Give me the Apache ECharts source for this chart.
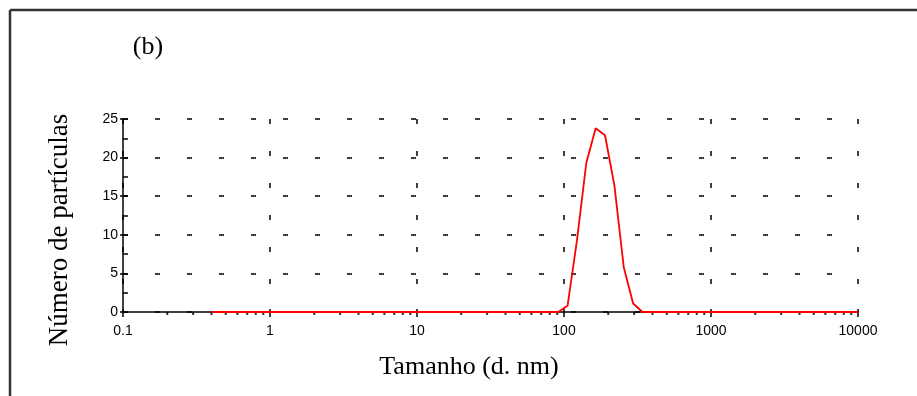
<!DOCTYPE html>
<html>
<head>
<meta charset="utf-8">
<script src="https://cdn.jsdelivr.net/npm/echarts@6/dist/echarts.min.js"></script>
<style>html,body{margin:0;padding:0;background:#fff;}#c{width:917px;height:396px;}</style>
</head>
<body>
<div id="c"></div>
<script>
// Particle size distribution (nm) vs number of particles
const sizes  = [0.4, 91.28, 105.7, 122.4, 141.8, 164.2, 190.1, 220.2, 255.0, 295.3, 342.0, 10000];
const counts = [0,   0,     0.8,   9.2,   19.3,  23.8,  22.9,  16.4,  5.8,   1.1,   0,     0];
const xTickLabels = ['0.1', '1', '10', '100', '1000', '10000'];
const yTickLabels = [0, 5, 10, 15, 20, 25];
const minorMultipliers = [2, 3, 4, 5, 6, 7, 8, 9];

const xDecades = xTickLabels.map(Number);
const minorTicks = [];
xDecades.slice(0, -1).forEach(d => minorMultipliers.forEach(m => minorTicks.push([d * m, 0])));

const chart = echarts.init(document.getElementById('c'));
const axisFont = { fontFamily: 'Liberation Sans, Arial, sans-serif', fontSize: 14, color: '#000' };
const serif = 'Liberation Serif, Times New Roman, serif';

chart.setOption({
  animation: false,
  backgroundColor: '#fff',
  grid: { left: 123, right: 59, top: 119, bottom: 84, containLabel: false },
  xAxis: [{
    type: 'log', logBase: 10,
    min: xDecades[0], max: xDecades[xDecades.length - 1],
    axisLine: { show: true, lineStyle: { color: '#000', width: 1.5 } },
    axisTick: { show: true, length: 5, lineStyle: { color: '#000', width: 1.5 } },
    axisLabel: Object.assign({ margin: 12, formatter: v => {
      const s = xTickLabels.find(t => Math.abs(Number(t) - v) / v < 1e-6);
      return s || '';
    } }, axisFont),
    splitLine: { show: true, lineStyle: { color: '#000', width: 1.5, type: [5, 27] } },
    minorTick: { show: false }
  }, {
    type: 'log', logBase: 10,
    min: xDecades[0], max: xDecades[xDecades.length - 1],
    position: 'bottom',
    axisLine: { show: false },
    axisTick: { show: true, inside: true, length: 3, lineStyle: { color: '#000', width: 1.5 } },
    axisLabel: { show: false },
    splitLine: { show: false }
  }],
  yAxis: [{
    type: 'value', min: yTickLabels[0], max: yTickLabels[yTickLabels.length - 1], interval: 5,
    axisLine: { show: true, lineStyle: { color: '#000', width: 1.5 } },
    axisTick: { show: true, length: 3, lineStyle: { color: '#000', width: 1.5 } },
    axisLabel: Object.assign({ margin: 5 }, axisFont),
    splitLine: { show: true, lineStyle: { color: '#000', width: 1.5, type: [5, 27] } }
  }, {
    type: 'value', min: 0, max: 25, interval: 2.5, position: 'left',
    axisLine: { show: false },
    axisTick: { show: true, inside: true, length: 5, lineStyle: { color: '#000', width: 1.5 } },
    axisLabel: { show: false },
    splitLine: { show: false }
  }],
  graphic: [
    { type: 'line', shape: { x1: 10, y1: 10, x2: 917, y2: 10 }, style: { stroke: '#333', lineWidth: 2.5 } },
    { type: 'line', shape: { x1: 10, y1: 10, x2: 10, y2: 396 }, style: { stroke: '#333', lineWidth: 2.5 } },
    { type: 'text', x: 148, y: 47, style: { text: '(b)', font: '26px ' + serif, fill: '#000', textAlign: 'center', textVerticalAlign: 'middle' } },
    { type: 'text', x: 469, y: 367, style: { text: 'Tamanho (d. nm)', font: '26px ' + serif, fill: '#000', textAlign: 'center', textVerticalAlign: 'middle' } },
    { type: 'text', x: 60, y: 230, rotation: Math.PI / 2, style: { text: 'Número de partículas', font: '27px ' + serif, fill: '#000', textAlign: 'center', textVerticalAlign: 'middle' } }
  ],
  series: [{
    type: 'scatter', xAxisIndex: 0, yAxisIndex: 0,
    data: minorTicks, symbol: 'rect', symbolSize: [2, 3], symbolOffset: [0, 1.5],
    itemStyle: { color: '#000' }, silent: true, z: 3
  }, {
    type: 'line', xAxisIndex: 0, yAxisIndex: 0,
    data: sizes.map((s, i) => [s, counts[i]]),
    showSymbol: false, smooth: false,
    lineStyle: { color: '#ff0000', width: 1.8 }, z: 5
  }]
});
</script>
</body>
</html>
